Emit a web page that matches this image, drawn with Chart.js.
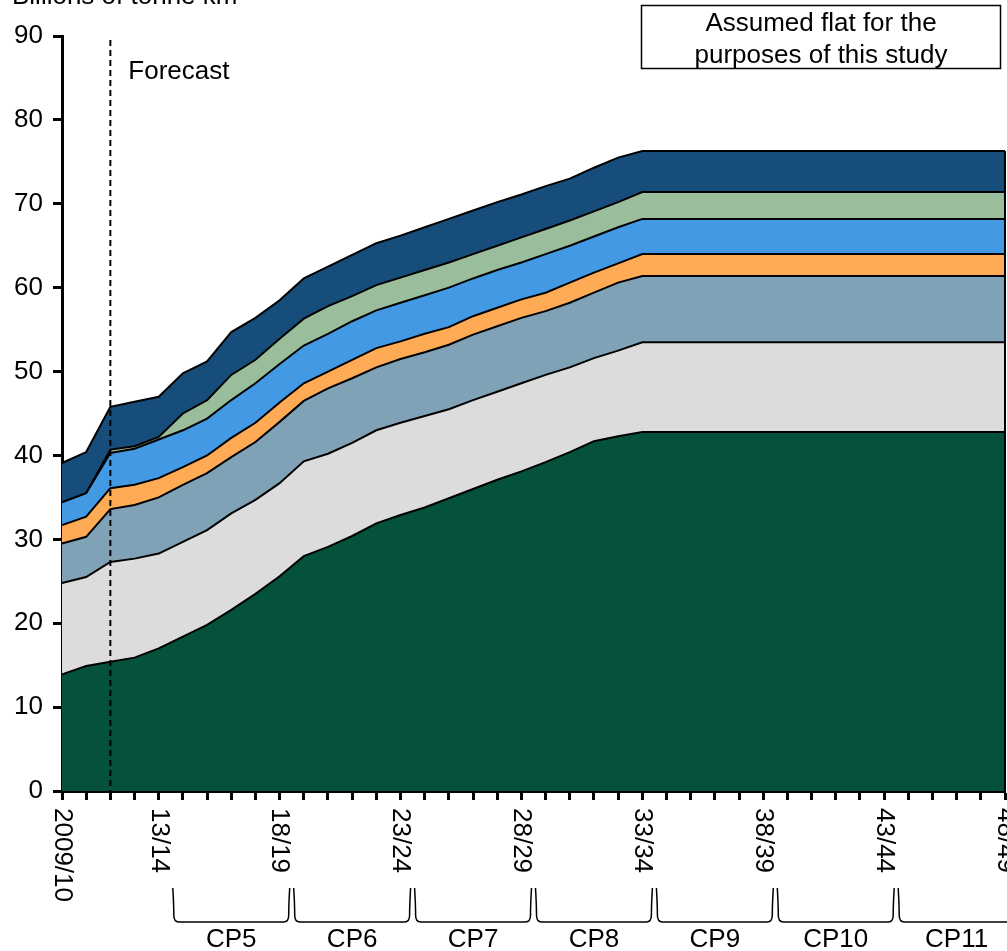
<!DOCTYPE html>
<html>
<head>
<meta charset="utf-8">
<script src="https://cdn.jsdelivr.net/npm/chart.js@4/dist/chart.umd.min.js"></script>
<style>
  body { margin: 0; background: #fff; }
  #wrap { width: 1007px; height: 951px; }
</style>
</head>
<body>
<div id="wrap"><canvas id="chart" width="1007" height="951"></canvas></div>
<script>
'use strict';
// years on the x axis (one point per year)
var years = ['2009/10', '10/11', '11/12', '12/13', '13/14', '14/15', '15/16', '16/17', '17/18', '18/19',
  '19/20', '20/21', '21/22', '22/23', '23/24', '24/25', '25/26', '26/27', '27/28', '28/29',
  '29/30', '30/31', '31/32', '32/33', '33/34', '34/35', '35/36', '36/37', '37/38', '38/39',
  '39/40', '40/41', '41/42', '42/43', '43/44', '44/45', '45/46', '46/47', '47/48', '48/49'];
var shownTicks = ['2009/10', '13/14', '18/19', '23/24', '28/29', '33/34', '38/39', '43/44', '48/49'];
var yTicks = [0, 10, 20, 30, 40, 50, 60, 70, 80, 90];
var forecastYear = '11/12';
// control periods: name, first year, last year
var periods = ['CP5', 'CP6', 'CP7', 'CP8', 'CP9', 'CP10', 'CP11'];
var periodStart = ['14/15', '19/20', '24/25', '29/30', '34/35', '39/40', '44/45'];
var periodEnd = ['18/19', '23/24', '28/29', '33/34', '38/39', '43/44', '48/49'];

// stacked layers, bottom to top (billions of tonne km)
var darkGreen = [13.9, 14.9, 15.4, 15.9, 17.0, 18.4, 19.8, 21.6, 23.5, 25.6, 28.0, 29.1, 30.4, 31.9, 32.9, 33.8, 34.9, 36.0, 37.1, 38.1,
  39.2, 40.4, 41.7, 42.3, 42.8, 42.8, 42.8, 42.8, 42.8, 42.8, 42.8, 42.8, 42.8, 42.8, 42.8, 42.8, 42.8, 42.8, 42.8, 42.8];
var lightGrey = [10.9, 10.6, 11.9, 11.8, 11.3, 11.3, 11.3, 11.5, 11.2, 11.1, 11.3, 11.1, 11.1, 11.1, 11.0, 10.9, 10.6, 10.6, 10.5, 10.5,
  10.4, 10.1, 9.9, 10.2, 10.7, 10.7, 10.7, 10.7, 10.7, 10.7, 10.7, 10.7, 10.7, 10.7, 10.7, 10.7, 10.7, 10.7, 10.7, 10.7];
var greyBlue = [4.7, 4.8, 6.3, 6.4, 6.7, 6.8, 6.8, 6.7, 6.9, 7.3, 7.2, 7.8, 7.7, 7.5, 7.6, 7.6, 7.7, 7.8, 7.8, 7.8,
  7.6, 7.7, 7.8, 8.1, 7.9, 7.9, 7.9, 7.9, 7.9, 7.9, 7.9, 7.9, 7.9, 7.9, 7.9, 7.9, 7.9, 7.9, 7.9, 7.9];
var orange = [2.2, 2.4, 2.5, 2.4, 2.3, 2.1, 2.1, 2.3, 2.3, 2.3, 2.1, 2.0, 2.2, 2.3, 2.1, 2.2, 2.1, 2.2, 2.2, 2.2,
  2.2, 2.4, 2.4, 2.3, 2.6, 2.6, 2.6, 2.6, 2.6, 2.6, 2.6, 2.6, 2.6, 2.6, 2.6, 2.6, 2.6, 2.6, 2.6, 2.6];
var blue = [2.7, 2.8, 4.2, 4.3, 4.6, 4.4, 4.4, 4.5, 4.7, 4.6, 4.5, 4.5, 4.6, 4.5, 4.6, 4.6, 4.7, 4.5, 4.5, 4.4,
  4.6, 4.4, 4.3, 4.3, 4.2, 4.2, 4.2, 4.2, 4.2, 4.2, 4.2, 4.2, 4.2, 4.2, 4.2, 4.2, 4.2, 4.2, 4.2, 4.2];
var sage = [0, 0, 0.4, 0.3, 0.3, 2.0, 2.2, 3.0, 2.8, 3.0, 3.2, 3.3, 3.0, 3.0, 3.0, 3.0, 3.0, 2.9, 2.9, 3.0,
  3.0, 3.0, 3.0, 3.0, 3.2, 3.2, 3.2, 3.2, 3.2, 3.2, 3.2, 3.2, 3.2, 3.2, 3.2, 3.2, 3.2, 3.2, 3.2, 3.2];
var darkBlue = [4.7, 4.9, 5.1, 5.3, 4.8, 4.8, 4.6, 5.1, 5.0, 4.6, 4.8, 4.7, 4.9, 5.0, 5.0, 5.1, 5.2, 5.2, 5.2, 5.1,
  5.1, 5.0, 5.2, 5.3, 4.9, 4.9, 4.9, 4.9, 4.9, 4.9, 4.9, 4.9, 4.9, 4.9, 4.9, 4.9, 4.9, 4.9, 4.9, 4.9];

var layers = [darkGreen, lightGrey, greyBlue, orange, blue, sage, darkBlue];
var colours = ['#04523C', '#DCDCDC', '#80A2B7', '#FFAA55', '#4499E4', '#9ABE9C', '#174D7A'];
var FONT = 'Liberation Sans, Arial, sans-serif';

var datasets = [];
for (var i in layers) {
  datasets.push({
    data: layers[i],
    backgroundColor: colours[i],
    borderColor: '#000',
    borderWidth: 2,
    pointRadius: 0,
    tension: 0,
    fill: i == 0 ? 'origin' : '-1'
  });
}

// extra drawing: rotated year labels, forecast line, notes, CP brackets
var extras = {
  id: 'extras',
  afterDatasetsDraw: function(chart) {
    var ctx = chart.ctx;
    var x = chart.scales.x;
    var y = chart.scales.y;
    var area = chart.chartArea;
    ctx.save();
    // close the stack on the right edge
    var last = years.length - 1;
    var top = 0;
    for (var l in layers) { top += layers[l][last]; }
    ctx.strokeStyle = '#000';
    ctx.lineWidth = 2;
    ctx.beginPath();
    ctx.moveTo(x.getPixelForValue(last), y.getPixelForValue(0));
    ctx.lineTo(x.getPixelForValue(last), y.getPixelForValue(top));
    ctx.stroke();
    // forecast dashed line
    var fx = x.getPixelForValue(years.indexOf(forecastYear));
    ctx.setLineDash([6, 4]);
    ctx.lineWidth = 2;
    ctx.beginPath();
    ctx.moveTo(fx, area.top + 4);
    ctx.lineTo(fx, area.bottom);
    ctx.stroke();
    ctx.setLineDash([]);
    ctx.restore();
  },
  afterDraw: function(chart) {
    var ctx = chart.ctx;
    var x = chart.scales.x;
    var area = chart.chartArea;
    ctx.save();
    ctx.fillStyle = '#000';
    ctx.font = '26px ' + FONT;
    // axis title, cut off at the top as in the original
    ctx.textAlign = 'left';
    ctx.textBaseline = 'alphabetic';
    ctx.fillText('Billions of tonne km', 12, 4);
    // forecast label
    var fx = x.getPixelForValue(years.indexOf(forecastYear));
    ctx.fillText('Forecast', fx + 18, 79);
    // note box
    ctx.lineWidth = 1.5;
    ctx.strokeRect(641.5, 5.5, 359, 63);
    ctx.textAlign = 'center';
    ctx.fillText('Assumed flat for the', 821, 31);
    ctx.fillText('purposes of this study', 821, 63);
    // year labels, reading downwards
    ctx.textAlign = 'left';
    ctx.textBaseline = 'middle';
    for (var i in years) {
      if (shownTicks.indexOf(years[i]) < 0) continue;
      var px = x.getPixelForValue(Number(i));
      ctx.save();
      ctx.translate(px, area.bottom + 17);
      ctx.rotate(Math.PI / 2);
      ctx.fillText(years[i], 0, 0);
      ctx.restore();
    }
    // control period brackets
    ctx.lineWidth = 1.5;
    ctx.strokeStyle = '#000';
    ctx.textBaseline = 'alphabetic';
    ctx.textAlign = 'center';
    for (var p in periods) {
      var a = x.getPixelForValue(years.indexOf(periodStart[p]) - 0.5) + 2;
      var b = x.getPixelForValue(years.indexOf(periodEnd[p]) + 0.5) - 2;
      ctx.beginPath();
      ctx.moveTo(a, 888);
      ctx.quadraticCurveTo(a + 1, 905, a + 1, 915);
      ctx.quadraticCurveTo(a + 1, 922, a + 6, 922);
      ctx.lineTo(b - 6, 922);
      ctx.quadraticCurveTo(b - 1, 922, b - 1, 915);
      ctx.quadraticCurveTo(b - 1, 905, b, 888);
      ctx.stroke();
      ctx.fillText(periods[p], (a + b) / 2, 947);
    }
    ctx.restore();
  }
};

new Chart(document.getElementById('chart'), {
  type: 'line',
  data: { labels: years, datasets: datasets },
  options: {
    responsive: false,
    animation: false,
    layout: { padding: { top: 36, right: 2, left: 0, bottom: 0 } },
    plugins: { legend: { display: false }, tooltip: { enabled: false } },
    scales: {
      x: {
        type: 'category',
        offset: false,
        ticks: { display: false },
        grid: { drawOnChartArea: false, drawTicks: true, tickLength: 9, tickWidth: 3, tickColor: '#000' },
        border: { display: true, width: 3, color: '#000' },
        afterFit: function(s) { s.height = 160; }
      },
      y: {
        stacked: true,
        min: 0,
        max: 90,
        afterBuildTicks: function(s) { s.ticks = yTicks.map(function(v) { return { value: v }; }); },
        ticks: { color: '#000', font: { family: FONT, size: 26 }, padding: 10 },
        grid: { drawOnChartArea: false, drawTicks: true, tickLength: 9, tickWidth: 3, tickColor: '#000' },
        border: { display: true, width: 3, color: '#000' },
        afterFit: function(s) { s.width = 62; }
      }
    }
  },
  plugins: [extras]
});
</script>
</body>
</html>
